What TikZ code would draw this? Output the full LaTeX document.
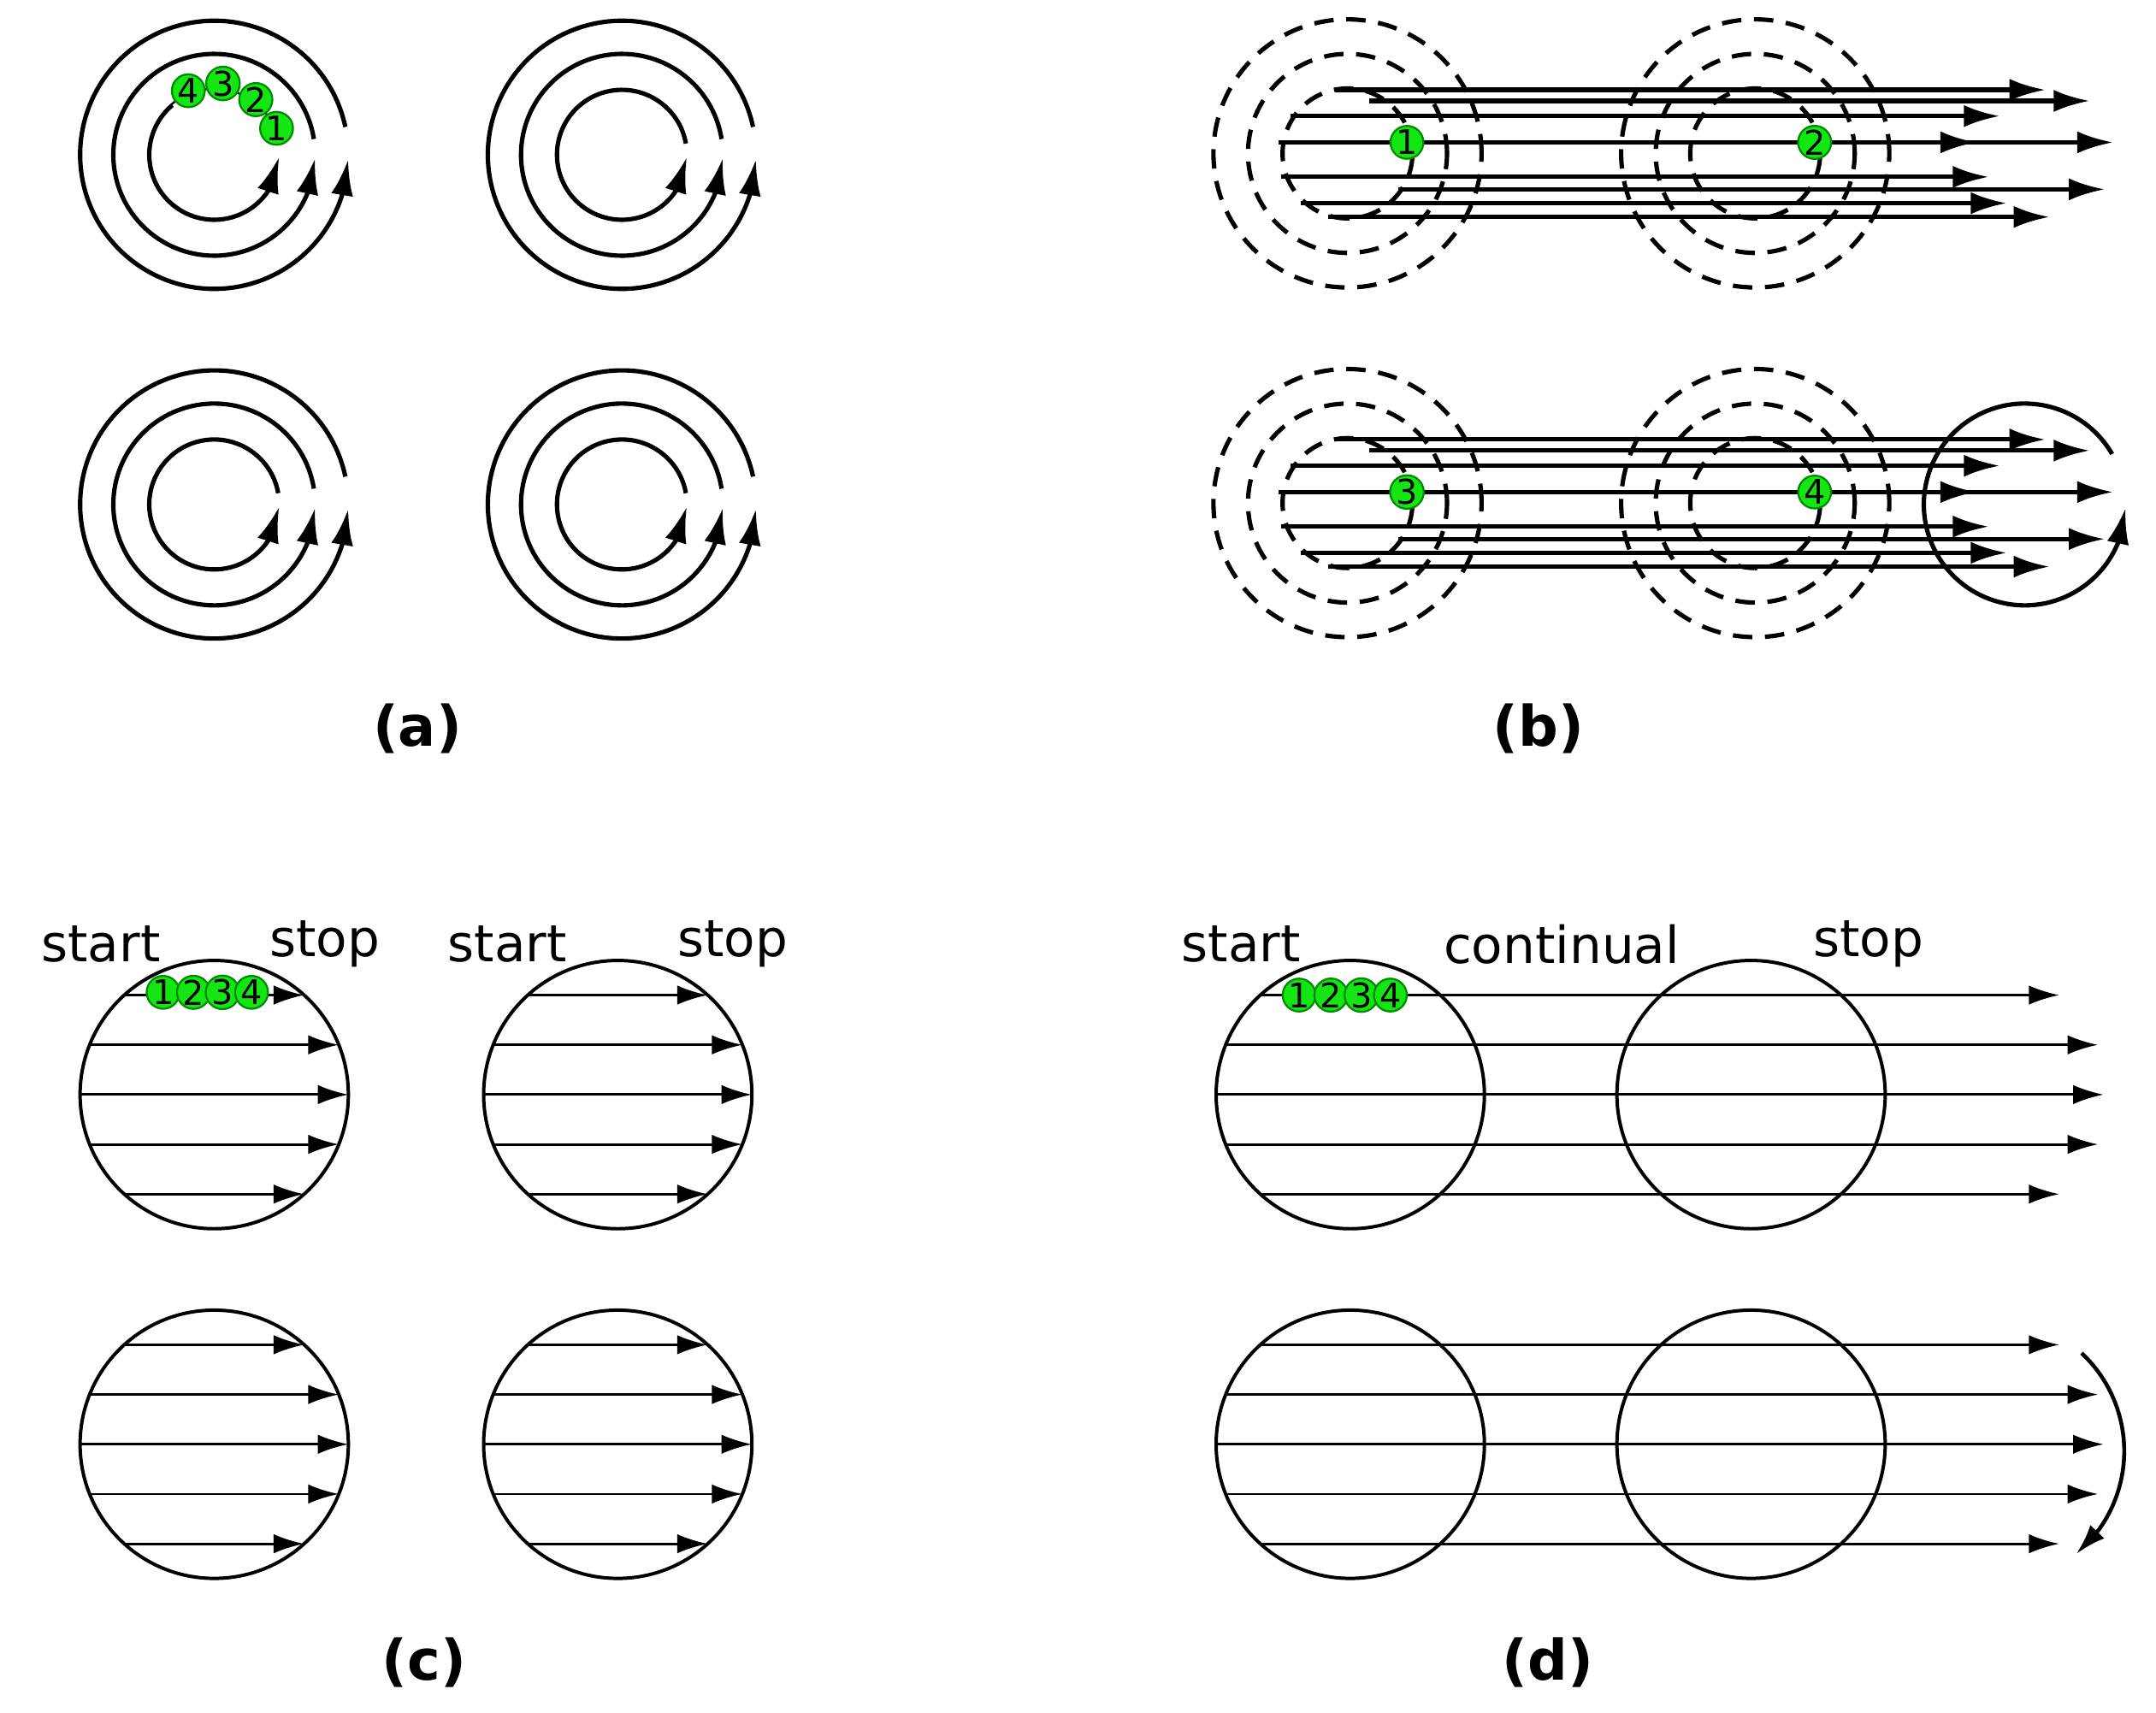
\documentclass[tikz,border=0pt]{standalone}
\usepackage{fontspec}
\setmainfont{DejaVu Sans}
\usetikzlibrary{arrows.meta,bending}
\definecolor{ballgreen}{RGB}{20,230,20}

\begin{document}
\begin{tikzpicture}[x=0.01cm, y=0.01cm,
    ring/.style={line width=0.9pt, -{Latex[length=2.6mm,width=1.6mm,flex]}},
    ringd/.style={line width=0.9pt, dash pattern=on 4pt off 2.6pt},
    beam/.style={line width=0.9pt, -{Latex[length=2.6mm,width=1.6mm]}},
    disc/.style={circle, draw, line width=0.7pt, minimum size=1.94cm, inner sep=0pt},
    ray/.style={line width=0.5pt, -{Latex[length=2.2mm,width=1.4mm]}},
    ball/.style={circle, fill=ballgreen, draw=green!55!black, inner sep=0pt,
                 minimum size=0.23cm, font=\fontsize{7}{7}\selectfont},
    word/.style={font=\fontsize{10.5}{10.5}\selectfont},
    tag/.style={font=\fontsize{11.5}{11.5}\selectfont\bfseries}
  ]
  \useasboundingbox (0,0) rectangle (1560,-1239);

  % (a) rings
  \foreach \n/\cx/\cy in {a1/155/-112, a2/450/-112, a3/155/-365, a4/450/-365} {
    \coordinate (\n) at (\cx,\cy);
    \draw[ring] ([shift={(10:47)}]\n) arc[start angle=10, end angle=358, radius=47];
    \draw[ring] ([shift={(9:73)}]\n) arc[start angle=9, end angle=358, radius=73];
    \draw[ring] ([shift={(12:97)}]\n) arc[start angle=12, end angle=358, radius=97];
  }
  \fill[white] ([shift={(10:47)}]a1) arc[start angle=10, end angle=130, radius=47]
    -- ([shift={(130:30)}]a1) -- (a1) -- cycle;
  \foreach \k/\ang/\r in {1/23/49, 2/53/50, 3/83/52, 4/112/50}
    \node[ball] (p\k) at ([shift={(\ang:\r)}]a1) {\k};
  \node[tag] (la) at (302,-527) {(a)};

  % (b) dashed fields and beams
  \foreach \row/\dy in {top/0, bot/-253} {
    \begin{scope}[yshift=\dy*0.01cm]
      \foreach \n/\cx in {l/975, r/1270} {
        \coordinate (b\row\n) at (\cx,-111);
        \foreach \r in {47,72,97}
          \draw[ringd] (b\row\n) circle[radius=\r];
      }
      \foreach \y/\xs/\xe in {65/966/1480, 73/991/1512, 84/934/1447, 103/925/1430,
                              103/925/1529, 128/927/1439, 137/1012/1523,
                              147/941/1452, 157/961/1483}
        \draw[beam] (\xs,-\y) -- (\xe,-\y);
    \end{scope}
  }
  \node[ball] (q1) at (1018,-103) {1};
  \node[ball] (q2) at (1313,-103) {2};
  \node[ball] (q3) at (1018,-356) {3};
  \node[ball] (q4) at (1313,-356) {4};
  \coordinate (spin) at (1465,-365);
  \draw[ring] ([shift={(30:73)}]spin) arc[start angle=30, end angle=358, radius=73];
  \node[tag] (lb) at (1113,-527) {(b)};

  % (c) single discs
  \foreach \n/\cx/\cy in {c1/155/-792, c2/447/-792, c3/155/-1045, c4/447/-1045} {
    \node[disc] (\n) at (\cx,\cy) {};
    \foreach \dy in {-72,-36,0,36,72}
      \draw[ray] ([shift={({-sqrt(9409-\dy*\dy)},\dy)}]\n.center)
        -- ([shift={({sqrt(9409-\dy*\dy)},\dy)}]\n.center);
  }
  \foreach \k/\x in {1/118, 2/140, 3/161, 4/182}
    \node[ball] (s\k) at (\x,-718) {\k};
  \node[word] (start1) at (73,-683) {start};
  \node[word] (stop1) at (235,-683) {stop};
  \node[word] (start2) at (367,-683) {start};
  \node[word] (stop2) at (530,-683) {stop};
  \node[tag] (lc) at (307,-1203) {(c)};

  % (d) pairs of discs
  \foreach \row/\cy in {top/-792, bot/-1045} {
    \node[disc] (d\row l) at (977,\cy) {};
    \node[disc] (d\row r) at (1267,\cy) {};
    \foreach \dy/\tx in {72/1490, 36/1518, 0/1522, -36/1518, -72/1490}
      \draw[ray] ([shift={({-sqrt(9409-\dy*\dy)},\dy)}]d\row l.center)
        -- ([shift={({\tx-977},\dy)}]d\row l.center);
  }
  \foreach \k/\x in {1/940, 2/963, 3/985, 4/1006}
    \node[ball] (t\k) at (\x,-720) {\k};
  \node[word] (start3) at (898,-683) {start};
  \node[word] (cont) at (1130,-683) {continual};
  \node[word] (stop3) at (1352,-683) {stop};
  \coordinate (sweep) at (1440,-1050);
  \draw[ray, line width=0.8pt] ([shift={(47:97)}]sweep)
    arc[start angle=47, end angle=-50, radius=97];
  \node[tag] (ld) at (1120,-1203) {(d)};
\end{tikzpicture}
\end{document}
